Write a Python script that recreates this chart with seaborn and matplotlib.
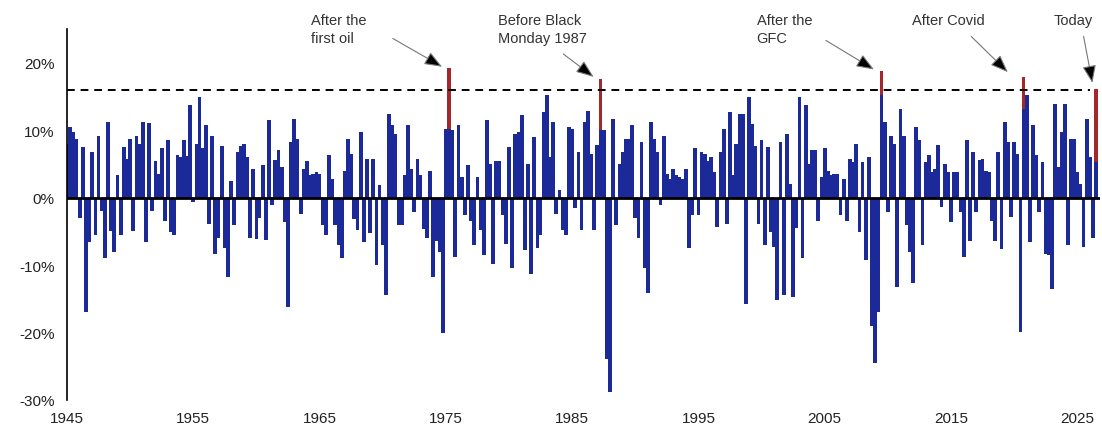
import numpy as np
import pandas as pd
import seaborn as sns
import matplotlib.pyplot as plt

sns.set_style("white")
plt.rcParams['font.family'] = ['Liberation Sans', 'DejaVu Sans']

# rolling returns (%), one value per quarter starting 1945 Q1
start_year = 1945
values = [
    8, 10.5, 9.7, 8.7, -3, 7.5, -17, -6.6, 6.8, -5.6, 9.2, -2, -9, 11.2, -5, -8, 3.3, -5.6, 7.5, 5.8,
    8.7, -5, 9.2, 8, 11.2, -6.6, 11,
    -2, 5.5, 3.5, 7.3, -3.4, 8.5, -5.1, -5.6, 6.3, 6, 8.5, 6.2, 13.7, -0.7, 8, 14.9, 7.3, 10.7, -3.9,
    9.2, -8.3, -6, 7.7, -7.5, -11.8, 2.5, -4,
    6.8, 7.7, 7.9, 6, -6, 4.3, -6.2, -3, 4.8, -6.3, 11.5, -1.1, 5.6, 7, 4.5, -3.6, -16.2, 8.2, 11.7,
    8.7, -2.4, 4.3, 5.5, 3.3, 3.5, 3.8, 3.5,
    -4, -5.6, 6.3, 2.8, -4, -7, -9, 4, 8.7, 6.5, -3.1, -4.8, 9.7, -6.6, 5.8, -5.3, 5.8, -10, 1.8, -7,
    -14.5, 12.4, 10.7, 9.5, -4, -4, 3.3,
    10.7, 4.3, -2.1, 5.8, 3.3, -4.6, -6, 4, -11.8, -6.5, -8, -20, 10.2, 10.2, 10, -8.8, 10.7, 3, -2.6,
    4.8, -3.5, -7, 3, -4.8, -8.5, 11.5, 5,
    -9.8, 5.5, 5.5, -2.6, -6.8, 7.5, -10.5, 9.5, 9.7, 12.2, -7.8, 5, -11.3, 9, -7.5, -5.6, 12.7, 15.2,
    6, 11.2, -2.4, 1.1, -4.8, -5.6, 10.5, 10.2, -1.6,
    6.8, -4.8, 11.2, 12.9, 6.5, -4.8, 7.8, 10, 10, -23.9, -28.8, 11.7, -4.1, 5, 6.8, 8.7, 8.7, 10.7,
    -3, -6, 8.2, -10.5, -14.2, 11.2, 8.7, 6.8, -1.1,
    9.2, 3.5, 2.8, 4.3, 3.3, 3, 2.8, 4.3, -7.5, -2.6, 7.3, -2.6, 6.8, 6.5, 5.5, 6, 3.8, -4.3, 6.8,
    10.2, -3.9, 12.7, 3.3, 8, 12.4, 12.4, -15.7,
    14.9, 10.9, 7.7, -3.9, 8.5, -7, 7.5, -5.1, -7.3, -15.2, 8.2, -14.5, 9.5, 2, -14.7, -4.5, 14.9, -9,
    13.7, 5, 7, 7, -3.4, 3, 7.3, 4, 3.4,
    3.5, 3.5, -2.6, 2.8, -3.4, 5.8, 5.3, 8, -5.1, 5.3, -9.3, 6, -19, -24.5, -17, 15.2, 11.2, -2.1,
    9.2, 8, -13.2, 13.2, 9.2, -4, -8, -12.7, 10.5,
    8.5, -7, 5.3, 6.3, 3.8, 4.3, 7.8, -1.4, 5, 3.8, -3.6, 3.8, 3.8, -2.1, -8.8, 8.5, -6.5, 6.8, -2.1,
    5.6, 5.8, 4, 3.8, -3.4, -6.5, 6.8, -7.6,
    11.2, 8.2, -2.9, 8.2, 6.5, -19.9, 13.2, 15.2, -6.6, 10.7, 6.3, -2.1, 5.3, -8.3, -8.5, -13.5, 13.9,
    4.5, 9.7, 13.9, -7, 8.7, 8.7, 3.8, 2, -7.3, 11.7, 6, -6, 5.3,
]

# highlighted peaks (red bars)
peak_years = [1975.25, 1987.25, 2009.5, 2020.75, 2026.5]
peak_values = [19.2, 17.6, 18.8, 17.9, 16.1]
peak_labels = ["After the\nfirst oil", "Before Black\nMonday 1987", "After the\nGFC", "After Covid", "Today"]
label_x = [1964.3, 1979.1, 1999.6, 2011.9, 2023.1]
arrow_from = [(1970.8, 23.6), (1984.3, 21.3), (2005.1, 23.3), (2016.6, 23.9), (2025.5, 23.9)]
arrow_to = [(1974.7, 19.4), (1986.7, 17.9), (2008.9, 19.0), (2019.5, 18.6), (2026.2, 17.0)]

threshold = 16
year_ticks = list(range(1945, 2026, 10))
y_ticks = [-30, -20, -10, 0, 10, 20]

quarters = start_year + 0.25 * np.arange(len(values))
df = pd.DataFrame({'year': quarters, 'ret': values, 'kind': 'normal'})
peaks = pd.DataFrame({'year': peak_years, 'ret': peak_values, 'kind': 'peak'})
data = pd.concat([peaks, df], ignore_index=True)

fig = plt.figure(figsize=(11.02, 4.31), dpi=100)
ax = fig.add_axes([67 / 1102, 30 / 431, 1033 / 1102, 371 / 431])

sns.barplot(data=data, x='year', y='ret', hue='kind', hue_order=['peak', 'normal'],
            palette={'peak': '#a3282b', 'normal': '#1b2a98'}, native_scale=True,
            dodge=False, width=1.2, saturation=1, errorbar=None, legend=False,
            linewidth=0, ax=ax)

ax.axhline(0, color='black', lw=2, zorder=5)
ax.axhline(threshold, xmin=0, xmax=0.99, color='black', lw=1.4, ls=(0, (4, 3)), zorder=5)

ax.set_xlim(1945, 2026.8)
ax.set_ylim(-30, 25)
ax.set_xticks(year_ticks)
ax.set_xticklabels([str(y) for y in year_ticks], fontsize=11, color='#222222')
ax.set_yticks(y_ticks)
ax.set_yticklabels([f"{v}%" for v in y_ticks], fontsize=11, color='#222222')
ax.set_xlabel("")
ax.set_ylabel("")

for s in ['top', 'right', 'bottom']:
    ax.spines[s].set_visible(False)
ax.spines['left'].set_color('black')
ax.spines['left'].set_linewidth(1.2)
ax.tick_params(axis='y', direction='out', length=5, width=1.2, pad=4)
ax.tick_params(axis='x', length=0, pad=8)

for lab, lx, a0, a1 in zip(peak_labels, label_x, arrow_from, arrow_to):
    ax.text(lx, 27.4, lab, ha='left', va='top', fontsize=10.5, color='#333333',
            linespacing=1.4, clip_on=False)
    ax.annotate('', xy=a1, xytext=a0, annotation_clip=False,
                arrowprops=dict(arrowstyle='-|>,head_length=0.9,head_width=0.35',
                                ec='#777777', fc='black', lw=0.8,
                                shrinkA=0, shrinkB=0, mutation_scale=12))

fig.savefig('out.png', dpi=100)
